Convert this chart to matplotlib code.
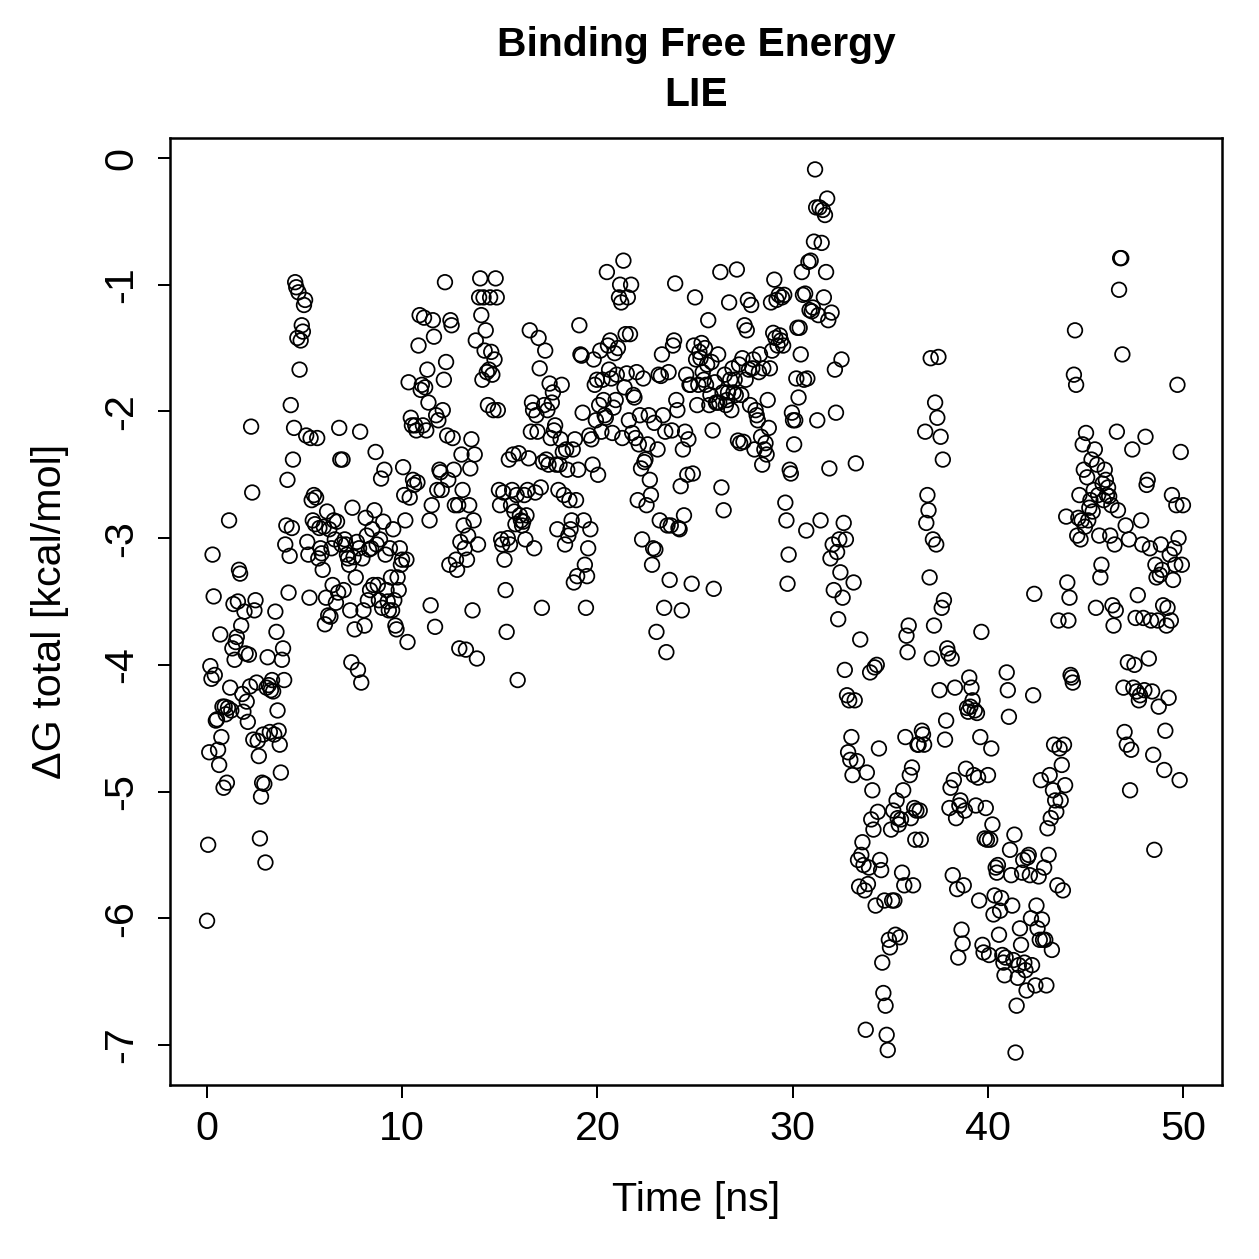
import numpy as np
import matplotlib
matplotlib.use("Agg")
import matplotlib.pyplot as plt

dg = [
    # 0-5 ns
    -6.02, -5.42, -4.69, -4.01, -4.11, -3.13, -3.46, -4.08, -4.44, -4.43, -4.67, -4.79, -3.76, -4.57, -4.33, -4.97, -4.33, -4.39,
    -4.93, -4.34, -2.86, -4.18, -4.36, -3.87, -3.52, -3.96, -3.82, -3.78, -3.50, -3.25, -3.28, -3.69, -4.23, -4.37, -3.58,
    -3.91, -4.29, -4.45, -3.92, -4.17, -2.12, -2.64, -4.59, -3.57, -3.49, -4.14, -4.60, -4.72, -5.37, -5.04, -4.93, -4.55,
    -4.94, -5.56, -4.18, -3.94, -4.16, -4.53, -4.20, -4.12, -4.21, -4.55, -3.58, -3.74, -4.36, -4.52, -4.63, -4.85, -3.96,
    -3.87, -4.12, -3.05, -2.90, -2.54, -3.43, -3.14, -1.95, -2.92, -2.38, -2.13, -0.98, -1.02, -1.42, -1.06, -1.67, -1.44,
    # 5-10 ns
    -1.32, -1.37, -1.16, -1.12, -2.19, -3.03, -3.13, -3.47, -2.21, -2.70, -2.86, -2.66, -2.89, -2.68, -2.21, -3.16, -2.92,
    -3.08, -3.12, -3.25, -2.91, -3.68, -3.47, -2.79, -3.61, -2.93, -3.62, -3.08, -3.37, -2.86, -3.01, -3.51, -2.87, -3.43,
    -2.13, -2.38, -3.05, -2.38, -3.41, -3.01, -3.05, -3.13, -3.16, -3.21, -3.57, -3.98, -2.76, -3.15, -3.72, -3.31, -3.03,
    -4.04, -3.08, -2.16, -4.14, -3.16, -3.57, -3.69, -2.84, -2.98, -3.49, -3.09, -3.41, -3.08, -2.93, -3.37, -2.78, -2.32,
    -3.05, -3.37, -3.49, -3.01, -2.53, -3.55, -2.87, -2.46, -3.13, -3.41, -3.50, -3.57, -3.08, -3.31, -3.57, -2.93, -3.49, -3.69,
    # 10-15 ns
    -3.72, -3.31, -3.41, -3.08, -3.21, -3.17, -2.44, -2.66, -2.86, -3.17, -3.82, -1.77, -2.68, -2.05, -2.11, -2.54, -2.58, -2.11,
    -2.15, -2.56, -1.48, -1.24, -1.83, -1.79, -2.11, -1.26, -1.81, -2.15, -1.67, -1.93, -2.86, -3.53, -2.74, -1.28, -1.41, -3.70,
    -2.03, -2.62, -2.07, -2.46, -2.48, -2.62, -1.99, -1.75, -0.98, -1.61, -2.19, -2.54, -3.21, -1.28, -1.32, -2.21, -2.46, -2.74,
    -3.17, -3.25, -2.74, -3.87, -3.03, -2.34, -2.62, -2.90, -3.08, -3.88, -3.17, -2.98, -2.74, -2.45, -2.22, -3.57, -2.86, -2.34, -1.44,
    -3.95, -3.05, -1.10, -0.95, -1.24, -1.75, -1.10, -1.52, -1.36, -1.69, -1.95, -1.67, -1.10, -1.53, -1.71, -1.99, -1.59, -0.95,
    # 15-20 ns
    -1.10, -1.99, -2.62, -2.74, -3.01, -3.05, -2.64, -3.17, -3.41, -3.74, -3.00, -2.38, -3.05, -2.74, -2.62, -2.34, -2.79,
    -2.89, -2.66, -4.12, -2.33, -2.82, -2.86, -2.90, -2.87, -2.66, -3.01, -2.82, -2.62, -2.37, -1.36, -2.16, -1.93, -1.99,
    -3.08, -2.64, -2.03, -2.16, -1.42, -1.66, -2.60, -3.55, -2.40, -1.95, -1.52, -2.38, -1.99, -2.42, -1.78, -2.21, -1.93, -1.85,
    -2.15, -2.11, -2.42, -2.93, -2.62, -2.42, -2.22, -1.79, -2.32, -2.66, -3.05, -2.30, -2.46, -2.98, -2.70, -2.93, -2.86, -2.30,
    -3.35, -2.22, -2.70, -3.30, -2.46, -1.32, -1.55, -1.56, -2.01, -2.86, -3.21, -3.55, -3.30, -3.08, -2.19, -2.93, -2.22, -2.42,
    # 20-25 ns
    -1.59, -1.79, -2.07, -1.75, -2.50, -1.95, -1.52, -2.16, -1.75, -1.91, -2.03, -2.05, -0.90, -1.48, -1.67, -1.44, -1.74,
    -2.17, -1.97, -1.54, -1.91, -1.71, -1.50, -1.10, -1.00, -1.14, -2.21, -0.81, -1.81, -1.39, -1.70, -1.10, -2.07, -1.39, -1.00,
    -2.17, -1.87, -1.89, -2.21, -1.69, -2.70, -2.26, -2.03, -2.45, -3.01, -1.74, -2.40, -2.38, -2.74, -2.26, -2.03, -2.54, -2.66,
    -3.21, -3.08, -2.09, -3.09, -3.74, -2.30, -1.71, -2.86, -1.72, -1.55, -2.03, -3.55, -2.16, -3.90, -2.90, -1.69, -3.33, -2.90,
    -2.15, -1.48, -1.44, -0.99, -1.91, -1.99, -2.92, -2.93, -2.59, -3.57, -2.30, -2.82, -2.16, -1.71, -2.50, -2.22, -1.79,
    # 25-30 ns
    -1.79, -3.36, -2.49, -1.48, -1.10, -1.59, -1.95, -1.79, -1.53, -1.58, -1.46, -1.69, -1.75, -1.50, -1.79, -1.63, -1.28, -1.95,
    -1.87, -1.61, -2.15, -3.40, -1.77, -1.93, -1.93, -1.55, -1.93, -0.90, -2.60, -1.85, -2.78, -1.71, -1.95, -1.91, -1.85, -1.14, -1.75,
    -1.99, -1.66, -1.85, -1.75, -1.87, -0.88, -2.23, -1.63, -2.25, -1.87, -1.58, -2.24, -1.32, -1.75, -1.36, -1.12, -1.67, -1.95,
    -1.16, -1.66, -1.59, -2.30, -1.99, -2.03, -2.07, -1.69, -1.55, -2.20, -2.42, -1.66, -2.30, -2.25, -2.34, -1.91, -2.13, -1.66,
    -1.14, -1.52, -1.38, -0.96, -1.42, -1.12, -1.48, -1.08, -1.40, -1.44, -1.10, -1.48, -1.08, -2.72, -2.86, -3.36, -3.13,
    # 30-35 ns
    -2.46, -2.49, -2.01, -2.07, -2.26, -2.07, -1.74, -1.34, -1.89, -1.34, -1.55, -0.90, -1.08, -1.75, -1.07, -2.94, -1.74,
    -0.82, -1.20, -0.81, -1.21, -1.18, -0.66, -0.09, -0.39, -2.07, -1.24, -0.39, -2.86, -0.67, -0.41, -1.10, -0.45, -0.90,
    -0.32, -1.28, -2.45, -3.16, -1.22, -3.05, -3.41, -1.67, -2.01, -3.11, -3.64, -3.01, -3.27, -1.59, -3.47, -2.88, -4.04, -3.01,
    -4.24, -4.69, -4.28, -4.75, -4.57, -4.87, -3.35, -4.28, -2.41, -4.76, -5.54, -5.75, -3.80, -5.50, -5.40, -5.58, -5.78,
    -6.88, -4.85, -5.73, -5.60, -4.06, -5.22, -4.99, -5.30, -4.02, -5.90, -4.00, -5.16, -4.66, -5.54, -5.62, -6.35, -6.59, -5.86,
    # 35-40 ns
    -6.69, -6.92, -7.04, -6.17, -6.23, -5.30, -5.86, -5.15, -5.86, -6.13, -5.07, -5.21, -5.26, -6.15, -5.22, -5.64, -4.99, -5.74,
    -4.57, -3.77, -3.90, -3.69, -4.87, -5.21, -4.81, -5.74, -5.13, -5.38, -5.15, -4.63, -4.63, -5.15, -5.38, -4.52, -4.55, -4.63,
    -2.16, -2.88, -2.66, -2.78, -3.31, -1.58, -3.95, -3.01, -3.69, -1.93, -3.05, -2.05, -1.57, -4.20, -2.20, -3.55, -2.38, -3.49,
    -4.59, -4.44, -3.87, -3.91, -5.13, -4.97, -3.95, -5.66, -4.91, -4.18, -5.21, -5.77, -6.31, -5.11, -5.07, -6.09,
    -6.20, -5.74, -5.15, -4.82, -4.34, -4.37, -4.10, -4.33, -4.18, -4.28, -4.87, -4.36, -5.11, -4.38, -4.89, -5.86, -4.57, -3.74,
    # 40-45 ns
    -6.21, -6.27, -5.37, -5.13, -5.38, -4.87, -6.29, -5.38, -4.66, -5.26, -5.97, -5.82, -5.60, -5.64, -5.58, -6.13, -5.94, -5.84,
    -6.29, -6.35, -6.45, -6.31, -4.06, -4.20, -4.41, -5.46, -5.66, -5.90, -6.33, -5.34, -7.06, -6.69, -6.47, -6.37, -6.08, -6.21,
    -5.64, -5.54, -6.35, -6.41, -6.57, -5.52, -5.50, -5.66, -6.00, -6.37, -4.24, -3.44, -6.53, -5.90, -6.08, -5.67, -6.17, -4.91, -6.01, -6.17,
    -5.60, -6.17, -6.53, -5.29, -5.50, -4.87, -5.21, -6.25, -4.99, -4.63, -5.07, -5.16, -5.74, -3.65, -4.66, -5.07, -4.79, -5.78, -4.63,
    -4.95, -2.83, -3.35, -3.65, -3.47, -4.08, -4.10, -4.14, -1.71, -1.36, -1.79, -2.98, -2.84, -2.66, -3.01, -2.86, -2.26, -2.46,
    # 45-50 ns
    -2.91, -2.17, -2.52, -2.86, -2.76, -2.70, -2.38, -2.79, -2.62, -2.30, -3.55, -2.42, -2.66, -2.98, -3.31, -3.21, -2.57, -2.70, -2.46,
    -2.54, -2.66, -2.60, -2.67, -2.98, -2.74, -3.53, -3.69, -3.05, -3.57, -2.16, -2.78, -1.04, -0.79, -0.79, -1.55, -4.18, -4.53,
    -2.90, -4.63, -3.98, -3.01, -4.99, -4.67, -2.30, -4.18, -4.00, -3.63, -4.21, -3.45, -4.28, -4.24, -2.86, -3.05, -3.63, -4.20,
    -2.20, -2.58, -2.54, -3.95, -3.08, -3.65, -4.21, -4.71, -5.46, -3.21, -3.31, -3.65, -4.33, -3.29, -3.05, -3.25, -3.53, -4.83,
    -4.52, -3.69, -3.55, -4.26, -3.13, -3.65, -2.66, -3.33, -3.08, -3.21, -2.74, -1.79, -3.00, -4.91, -2.32, -3.21, -2.74,
]
# frames are evenly spaced over the 50 ns run
time_ns = np.linspace(0, 50, len(dg))

x_ticks = [0, 10, 20, 30, 40, 50]
y_ticks = [0, -1, -2, -3, -4, -5, -6, -7]

plt.rcParams['font.family'] = ['Liberation Sans', 'DejaVu Sans']

fig = plt.figure(figsize=(1259 / 180, 1259 / 180), dpi=180)
ax = fig.add_axes([0.135, 0.1382, 0.8356, 0.7522])

ax.scatter(time_ns, dg, s=34, facecolors="none", edgecolors="black", linewidths=0.7)

ax.set_xlim(-1.9, 52.0)
ax.set_ylim(-7.316, 0.158)
ax.set_xticks(x_ticks)
ax.set_yticks(y_ticks)
ax.set_yticklabels([str(v) for v in y_ticks], rotation=90, va="center")
ax.tick_params(direction="out", length=5, width=0.8, labelsize=16.5, pad=5)
ax.tick_params(axis="y", pad=7)
for sp in ax.spines.values():
    sp.set_linewidth(1.0)

ax.set_xlabel("Time [ns]", fontsize=16.5)
ax.set_ylabel("ΔG total [kcal/mol]", fontsize=16.5)
ax.xaxis.set_label_coords(0.5, -0.121)
ax.yaxis.set_label_coords(-0.114, 0.5)
ax.xaxis.label.set_va("center")
ax.yaxis.label.set_va("center")
fig.text(0.553, 0.964, "Binding Free Energy", ha="center", va="center", fontsize=16.3, fontweight="bold")
fig.text(0.553, 0.9245, "LIE", ha="center", va="center", fontsize=16.3, fontweight="bold")

fig.savefig("out.png", dpi=180)
